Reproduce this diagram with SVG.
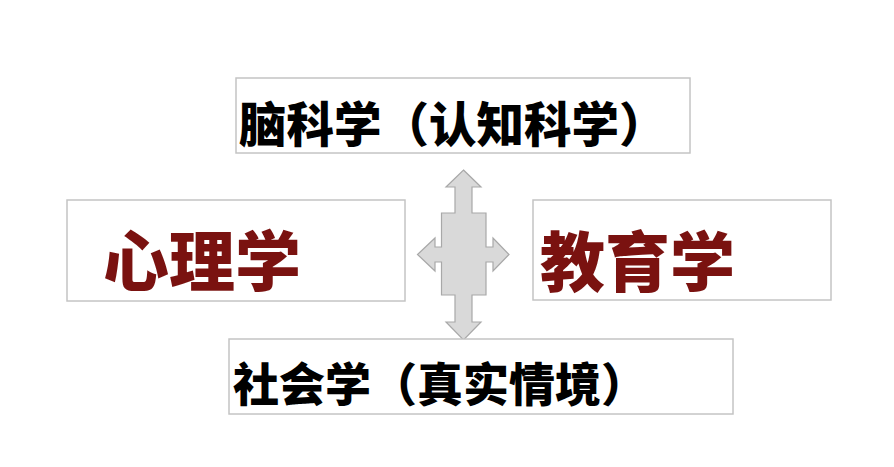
<svg xmlns="http://www.w3.org/2000/svg" width="894" height="467" viewBox="0 0 894 467">
<style>
.box{fill:#ffffff;stroke:#c4c4c4;stroke-width:1.5}
.t{font-family:"Noto Sans CJK SC","Noto Sans CJK TC",sans-serif;font-weight:900}
.blk{fill:#000000}
.red{fill:#7a1210}
.arrow{fill:#d9d9d9;stroke:#a8a8a8;stroke-width:1.2;stroke-linejoin:miter}
</style>
<rect width="894" height="467" fill="#ffffff"/>
<g id="connectors">
<path class="arrow" d="M463.5 170 L481 187 L472 187 L472 213 L486 213 L486 247 L493 247 L493 238 L509 254.5 L493 271 L493 262 L486 262 L486 295 L472 295 L472 322 L481 322 L463.5 340 L446 322 L455 322 L455 295 L441.5 295 L441.5 262 L435 262 L435 271 L417.5 254.5 L435 238 L435 247 L441.5 247 L441.5 213 L455 213 L455 187 L446 187 Z"/>
</g>
<g id="node-brain">
<rect class="box" x="236" y="78" width="454" height="75"/>
<text class="t blk" x="239" y="142" font-size="47.5">脑科学（认知科学）</text>
</g>
<g id="node-psychology">
<rect class="box" x="67" y="200" width="338" height="101"/>
<text class="t red" x="103" y="286" font-size="66">心理学</text>
</g>
<g id="node-education">
<rect class="box" x="533" y="200" width="298" height="100"/>
<text class="t red" x="540" y="286" font-size="65">教育学</text>
</g>
<g id="node-sociology">
<rect class="box" x="229" y="339" width="504" height="75"/>
<text class="t blk" x="233" y="401" font-size="46">社会学（真实情境）</text>
</g>
</svg>
